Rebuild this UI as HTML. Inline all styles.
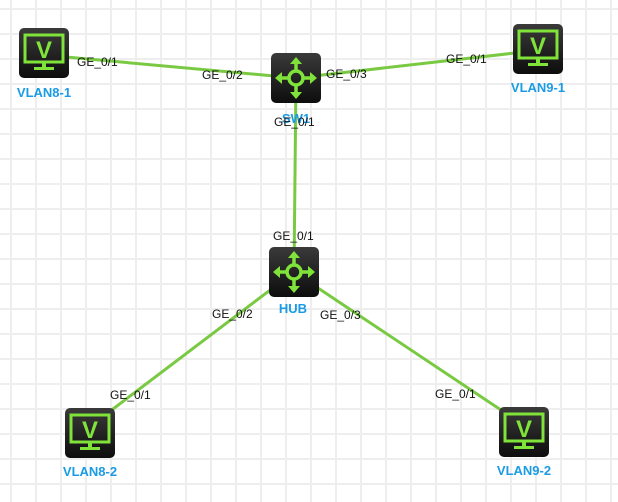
<!DOCTYPE html>
<html><head><meta charset="utf-8"><style>
html,body{margin:0;padding:0;background:#fff;}
svg{display:block;}
text{font-family:"Liberation Sans",Arial,sans-serif;}
.p{font-size:12px;fill:#111;}
.n{font-size:13px;font-weight:bold;fill:#1a9be6;}
</style></head><body>
<svg width="618" height="502" viewBox="0 0 618 502" xmlns="http://www.w3.org/2000/svg">
<defs>
<pattern id="g" x="10" y="8" width="25" height="25" patternUnits="userSpaceOnUse">
<rect x="0" y="0" width="2" height="25" fill="#eeeeee"/>
<rect x="0" y="0" width="25" height="2" fill="#eeeeee"/>
</pattern>
<linearGradient id="bg" x1="0" y1="0" x2="0" y2="1">
<stop offset="0" stop-color="#3a3a3a"/><stop offset="1" stop-color="#0d0d0d"/>
</linearGradient>
<g id="pc">
<rect x="0" y="0" width="50" height="50" rx="5" fill="url(#bg)"/>
<rect x="6" y="7" width="38" height="27" fill="none" stroke="#7fe33a" stroke-width="3"/>
<rect x="23" y="34" width="4" height="5" fill="#7fe33a"/>
<rect x="15" y="39" width="20" height="3" fill="#7fe33a"/>
</g>
<g id="sw">
<rect x="0" y="0" width="50" height="50" rx="5" fill="url(#bg)"/>
<g stroke="#7fe33a" stroke-width="3.5" fill="none">
<circle cx="25" cy="25" r="7"/>
<line x1="25" y1="18" x2="25" y2="9"/><line x1="25" y1="32" x2="25" y2="41"/>
<line x1="18" y1="25" x2="9" y2="25"/><line x1="32" y1="25" x2="41" y2="25"/>
</g>
<g fill="#7fe33a">
<polygon points="25,4 19,11 31,11"/><polygon points="25,46 19,39 31,39"/>
<polygon points="4,25 11,19 11,31"/><polygon points="46,25 39,19 39,31"/>
</g>
</g>
</defs>
<rect width="618" height="502" fill="#fff"/>
<rect width="618" height="502" fill="url(#g)"/>
<g stroke="#7ac943" stroke-width="3" stroke-linecap="round">
<line x1="66" y1="57" x2="296" y2="78"/>
<line x1="296" y1="78" x2="515" y2="53"/>
<line x1="296" y1="78" x2="294" y2="272"/>
<line x1="294" y1="272" x2="113" y2="409"/>
<line x1="294" y1="272" x2="501" y2="410"/>
</g>
<use href="#pc" x="19" y="28"/><text x="44" y="58" text-anchor="middle" font-size="24" font-weight="bold" fill="#7fe33a">V</text>
<use href="#pc" x="513" y="24"/><text x="538" y="54" text-anchor="middle" font-size="24" font-weight="bold" fill="#7fe33a">V</text>
<use href="#pc" x="65" y="408"/><text x="90" y="438" text-anchor="middle" font-size="24" font-weight="bold" fill="#7fe33a">V</text>
<use href="#pc" x="499" y="407"/><text x="524" y="437" text-anchor="middle" font-size="24" font-weight="bold" fill="#7fe33a">V</text>
<use href="#sw" x="271" y="53"/>
<use href="#sw" x="269" y="247"/>
<text class="n" x="44" y="97" text-anchor="middle">VLAN8-1</text>
<text class="n" x="538" y="92" text-anchor="middle">VLAN9-1</text>
<text class="n" x="296" y="123" text-anchor="middle">SW1</text>
<text class="n" x="293" y="313" text-anchor="middle">HUB</text>
<text class="n" x="90" y="476" text-anchor="middle">VLAN8-2</text>
<text class="n" x="524" y="475" text-anchor="middle">VLAN9-2</text>
<text class="p" x="77" y="66">GE_0/1</text>
<text class="p" x="202" y="79">GE_0/2</text>
<text class="p" x="326" y="78">GE_0/3</text>
<text class="p" x="446" y="63">GE_0/1</text>
<text class="p" x="274" y="126">GE_0/1</text>
<text class="p" x="273" y="240">GE_0/1</text>
<text class="p" x="212" y="318">GE_0/2</text>
<text class="p" x="320" y="319">GE_0/3</text>
<text class="p" x="110" y="399">GE_0/1</text>
<text class="p" x="435" y="398">GE_0/1</text>
</svg>
</body></html>
